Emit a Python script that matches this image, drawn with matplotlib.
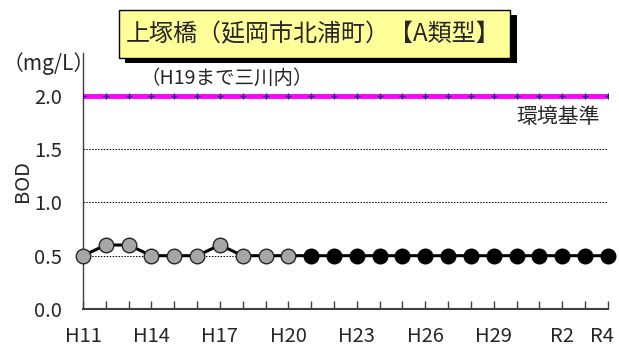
import matplotlib.pyplot as plt
import matplotlib.transforms as mtransforms
from matplotlib.patches import Rectangle

plt.rcParams['font.family'] = ['Noto Sans CJK JP', 'DejaVu Sans']

years = ['H11', 'H12', 'H13', 'H14', 'H15', 'H16', 'H17', 'H18', 'H19', 'H20',
         'H21', 'H22', 'H23', 'H24', 'H25', 'H26', 'H27', 'H28', 'H29', 'H30',
         'R1', 'R2', 'R3', 'R4']
tick_labels = ['H11', '', '', 'H14', '', '', 'H17', '', '', 'H20',
               '', '', 'H23', '', '', 'H26', '', '', 'H29', '',
               '', 'R2', '', 'R4']
# BOD (mg/L); grey = up to H20 (old site), black = from H21
bod_old = [0.5, 0.6, 0.6, 0.5, 0.5, 0.5, 0.6, 0.5, 0.5, 0.5]
bod_new = [0.5, 0.5, 0.5, 0.5, 0.5, 0.5, 0.5, 0.5, 0.5, 0.5, 0.5, 0.5, 0.5, 0.5]
standard = [2.0] * len(years)

x = list(range(len(years)))
x_old = x[:len(bod_old)]
x_new = x[len(bod_old):]

fig = plt.figure(figsize=(6.19, 3.47), dpi=100)
ax = fig.add_axes([0.134, 0.1095, 0.848, 0.7375])

# environmental standard line
ax.plot(x, standard, color='#FF00FF', lw=3.5, zorder=3, solid_capstyle='butt')
ax.plot(x, standard, ls='none', marker='+', ms=4, mew=1, color='#1F1F7A', zorder=4)

ax.plot(x, bod_old + bod_new, color='black', lw=2.2, zorder=5)
ax.plot(x_old, bod_old, ls='none', marker='o', ms=10.5, mfc='#A6A6A6',
        mec='#262626', mew=1, zorder=6, clip_on=False)
ax.plot(x_new, bod_new, ls='none', marker='o', ms=10.5, mfc='black',
        mec='black', mew=1, zorder=6, clip_on=False)

ax.set_xlim(0, len(years) - 1)
ax.set_ylim(0, 2.4)
ax.set_yticks([0.0, 0.5, 1.0, 1.5, 2.0])
ax.set_yticklabels(['0.0', '0.5', '1.0', '1.5', '2.0'])
ax.set_xticks(x)
ax.set_xticklabels(tick_labels)
for yv in [0.5, 1.0, 1.5]:
    ax.axhline(yv, color='black', lw=0.7, ls=(0, (1.5, 1.5)), zorder=1)

for s in ['top', 'right']:
    ax.spines[s].set_visible(False)
ax.spines['left'].set_color('#404040')
ax.spines['left'].set_linewidth(1)
ax.spines['bottom'].set_color('#404040')
ax.spines['bottom'].set_linewidth(1.5)

ax.tick_params(axis='x', direction='in', length=6, width=1, color='#404040',
               labelsize=14.5, pad=12, labelcolor='#262626')
ax.tick_params(axis='y', length=0, labelsize=14.5, pad=15, labelcolor='#262626')
last = ax.get_xticklabels()[-1]
last.set_transform(last.get_transform() +
                   mtransforms.ScaledTranslation(-6 / 100, 0, fig.dpi_scale_trans))

fig.text(0.037, 0.478, 'BOD', rotation=90, fontsize=14.5, ha='center', va='center',
         color='#262626')
fig.text(0.004, 0.818, '（mg/L）', fontsize=15, ha='left', va='center',
         color='#262626')
fig.text(0.227, 0.775, '（H19まで三川内）', fontsize=14, ha='left', va='center',
         color='#262626')
fig.text(0.834, 0.663, '環境基準', fontsize=15, ha='left', va='center',
         color='#262626')

# title box with shadow
W, H = 619, 347
fig.patches.append(Rectangle((125 / W, 1 - 63 / H), 392 / W, 48 / H,
                             transform=fig.transFigure, facecolor='black',
                             edgecolor='none', zorder=1))
fig.patches.append(Rectangle((119 / W, 1 - 58 / H), 391 / W, 48 / H,
                             transform=fig.transFigure, facecolor='#FFFF99',
                             edgecolor='black', lw=1, zorder=2))
fig.text(313 / W, 1 - 34 / H, '上塚橋（延岡市北浦町）【A類型】', fontsize=17.3,
         ha='center', va='center', color='#262626', zorder=3)

fig.savefig('out.png', dpi=100)
